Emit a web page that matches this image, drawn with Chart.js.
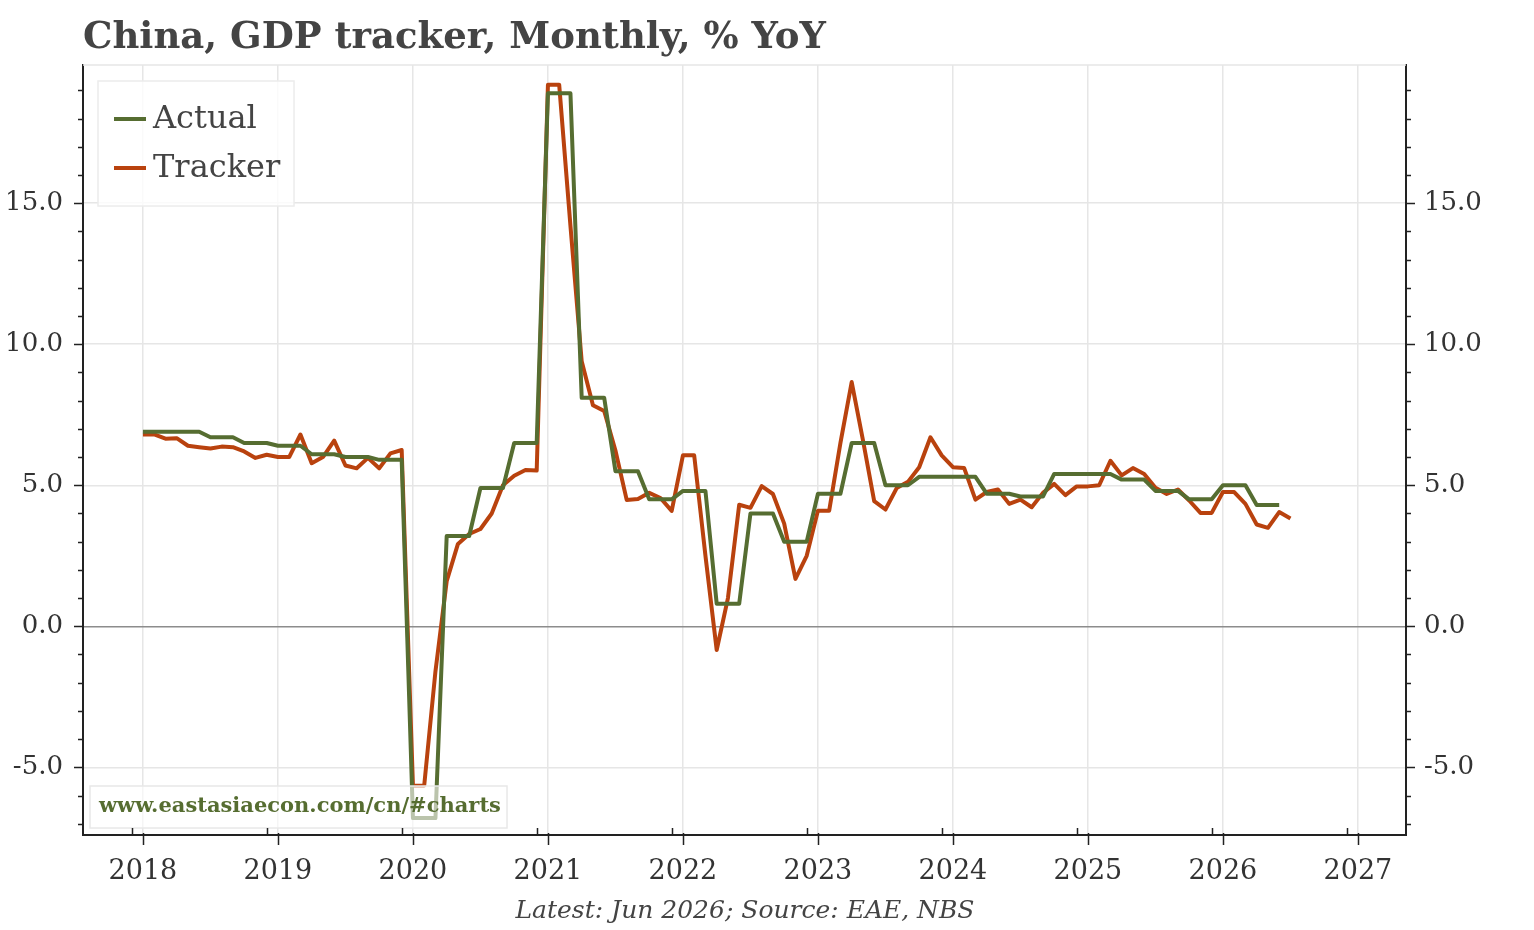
<!DOCTYPE html>
<html>
<head>
<meta charset="utf-8">
<title>China, GDP tracker</title>
<script src="https://cdn.jsdelivr.net/npm/chart.js@4.4.1/dist/chart.umd.min.js"></script>
<style>
  html, body { margin: 0; padding: 0; background: #fff; }
  #wrap { position: relative; width: 1534px; height: 930px; }
</style>
</head>
<body>
<div id="wrap"><canvas id="gdpChart"></canvas></div>
<script>
// Official quarterly GDP, shown monthly (each quarter held for 3 months), Jan 2018 - Jun 2026
const actual = [
  6.9, 6.9, 6.9, 6.9, 6.9, 6.9, 6.7, 6.7, 6.7, 6.5, 6.5, 6.5,
  6.4, 6.4, 6.4, 6.1, 6.1, 6.1, 6.0, 6.0, 6.0, 5.9, 5.9, 5.9,
  -6.8, -6.8, -6.8, 3.2, 3.2, 3.2, 4.9, 4.9, 4.9, 6.5, 6.5, 6.5,
  18.9, 18.9, 18.9, 8.1, 8.1, 8.1, 5.5, 5.5, 5.5, 4.5, 4.5, 4.5,
  4.8, 4.8, 4.8, 0.8, 0.8, 0.8, 4.0, 4.0, 4.0, 3.0, 3.0, 3.0,
  4.7, 4.7, 4.7, 6.5, 6.5, 6.5, 5.0, 5.0, 5.0, 5.3, 5.3, 5.3,
  5.3, 5.3, 5.3, 4.7, 4.7, 4.7, 4.6, 4.6, 4.6, 5.4, 5.4, 5.4,
  5.4, 5.4, 5.4, 5.2, 5.2, 5.2, 4.8, 4.8, 4.8, 4.5, 4.5, 4.5,
  5.0, 5.0, 5.0, 4.3, 4.3, 4.3
];

// Monthly tracker, Jan 2018 onwards
const tracker = [
  6.8, 6.8, 6.65, 6.67, 6.4, 6.35, 6.3, 6.37, 6.35, 6.2, 5.97, 6.08,
  6.0, 6.0, 6.8, 5.78, 6.0, 6.58, 5.7, 5.6, 5.97, 5.6, 6.13, 6.25,
  -5.65, -5.65, -1.6, 1.6, 2.92, 3.27, 3.45, 4.0, 5.0, 5.34, 5.54, 5.52,
  19.2, 19.2, 14.2, 9.4, 7.84, 7.63, 6.23, 4.48, 4.51, 4.73, 4.55, 4.09,
  6.06, 6.06, 2.5, -0.84, 1.0, 4.31, 4.2, 4.97, 4.69, 3.64, 1.68, 2.5,
  4.1, 4.1, 6.5, 8.66, 6.6, 4.44, 4.14, 4.9, 5.12, 5.64, 6.7, 6.06,
  5.64, 5.61, 4.49, 4.76, 4.85, 4.34, 4.49, 4.22, 4.73, 5.05, 4.65, 4.96,
  4.96, 5.0, 5.87, 5.35, 5.61, 5.4, 4.91, 4.69, 4.85, 4.46, 4.02, 4.02,
  4.76, 4.76, 4.34, 3.61, 3.49, 4.05, 3.82
];

const yearTicks = [2018, 2019, 2020, 2021, 2022, 2023, 2024, 2025, 2026, 2027];
const yLabels = [-5, 0, 5, 10, 15];

const titleText = "China, GDP tracker, Monthly, % YoY";
const footerText = "Latest: Jun 2026; Source: EAE, NBS";
const siteText = "www.eastasiaecon.com/cn/#charts";

const GREEN = "#566d31";
const ORANGE = "#b9420e";
const SERIF = "'DejaVu Serif', 'Liberation Serif', serif";

// month labels "YYYY-MM" starting Jan 2018
const months = [];
for (let i = 0; i < tracker.length; i++) {
  const yr = 2018 + Math.floor(i / 12);
  const mo = (i % 12) + 1;
  months.push(yr + "-" + String(mo).padStart(2, "0"));
}
function toYear(label) {
  const parts = label.split("-").map(Number);
  return parts[0] + (parts[1] - 1) / 12;
}
function toPoints(values) {
  return values.map((v, i) => ({ x: toYear(months[i]), y: v }));
}

// title, footer, axis tick marks, legend, watermark
const decor = {
  id: "decor",
  beforeDraw(chart) {
    const c = chart.ctx;
    c.save();
    c.fillStyle = "#fff";
    c.fillRect(0, 0, chart.width, chart.height);
    c.fillStyle = "#444";
    c.font = "bold 37px " + SERIF;
    c.textBaseline = "alphabetic";
    c.textAlign = "left";
    c.fillText(titleText, 83, 48);
    c.font = "italic 25px " + SERIF;
    c.textAlign = "center";
    c.fillText(footerText, 745, 918);
    c.restore();
  },
  afterDatasetsDraw(chart) {
    const c = chart.ctx;
    c.save();

    // legend box
    c.fillStyle = "rgba(255,255,255,0.8)";
    c.fillRect(98, 81, 196, 125);
    c.strokeStyle = "#ececec";
    c.lineWidth = 1.5;
    c.strokeRect(98, 81, 196, 125);
    chart.data.datasets.forEach((ds, i) => {
      const yy = 119 + i * 49;
      c.strokeStyle = ds.borderColor;
      c.lineWidth = 4;
      c.beginPath();
      c.moveTo(114, yy);
      c.lineTo(146, yy);
      c.stroke();
      c.fillStyle = "#444";
      c.font = "32px " + SERIF;
      c.textAlign = "left";
      c.textBaseline = "middle";
      c.fillText(ds.label, 153, yy + 1);
    });

    // watermark box
    c.fillStyle = "rgba(255,255,255,0.6)";
    c.fillRect(90, 786, 417, 42);
    c.strokeStyle = "#e8e8e8";
    c.lineWidth = 1.5;
    c.strokeRect(90, 786, 417, 42);
    c.fillStyle = GREEN;
    c.font = "bold 21px " + SERIF;
    c.textAlign = "left";
    c.textBaseline = "middle";
    c.fillText(siteText, 99, 807);

    c.restore();
  },
  afterDraw(chart) {
    const c = chart.ctx;
    const a = chart.chartArea;
    const ys = chart.scales.y;
    const xs = chart.scales.x;
    c.save();
    // light top edge
    c.strokeStyle = "#e6e6e6";
    c.lineWidth = 1.5;
    c.beginPath();
    c.moveTo(a.left, a.top);
    c.lineTo(a.right, a.top);
    c.stroke();

    c.strokeStyle = "#222";
    c.lineWidth = 1.5;
    c.beginPath();
    for (let v = Math.ceil(ys.min); v <= Math.floor(ys.max); v++) {
      const py = Math.round(ys.getPixelForValue(v)) + 0.5;
      const len = v % 5 === 0 ? 9 : 5;
      c.moveTo(a.left, py); c.lineTo(a.left - len, py);
      c.moveTo(a.right, py); c.lineTo(a.right + len, py);
    }
    yearTicks.forEach(yr => {
      const px = Math.round(xs.getPixelForValue(yr)) + 0.5;
      c.moveTo(px, a.bottom - 2); c.lineTo(px, a.bottom + 10);
      const pm = Math.round(xs.getPixelForValue(yr - 1 / 12)) + 0.5;
      c.moveTo(pm, a.bottom); c.lineTo(pm, a.bottom - 7);
    });
    c.stroke();
    c.restore();
  }
};

const tickFont = { family: SERIF, size: 26 };

new Chart(document.getElementById("gdpChart"), {
  type: "line",
  data: {
    datasets: [
      {
        label: "Actual",
        data: toPoints(actual),
        borderColor: GREEN,
        borderWidth: 4,
        pointRadius: 0,
        tension: 0,
        borderJoinStyle: "round"
      },
      {
        label: "Tracker",
        data: toPoints(tracker),
        borderColor: ORANGE,
        borderWidth: 4,
        pointRadius: 0,
        tension: 0,
        borderJoinStyle: "round"
      }
    ]
  },
  options: {
    responsive: true,
    maintainAspectRatio: false,
    animation: false,
    layout: { padding: { top: 65, left: 0, right: 0, bottom: 0 } },
    plugins: {
      legend: { display: false },
      tooltip: { enabled: false }
    },
    scales: {
      x: {
        type: "linear",
        min: 2017.556,
        max: 2027.356,
        afterFit(s) { s.height = 95; },
        afterBuildTicks(s) { s.ticks = yearTicks.map(v => ({ value: v })); },
        grid: { color: "#e6e6e6", lineWidth: 1.5, drawTicks: false },
        border: { color: "#222", width: 2 },
        ticks: {
          font: { family: SERIF, size: 27 },
          color: "#333",
          padding: 21,
          autoSkip: false,
          maxRotation: 0,
          callback: v => String(v)
        }
      },
      y: {
        position: "left",
        min: -7.4,
        max: 19.9,
        afterFit(s) { s.width = 83; },
        afterBuildTicks(s) { s.ticks = yLabels.map(v => ({ value: v })); },
        grid: {
          color: ctx => (ctx.tick && ctx.tick.value === 0 ? "#8c8c8c" : "#e6e6e6"),
          lineWidth: 1.5,
          drawTicks: false
        },
        border: { color: "#222", width: 2 },
        ticks: { font: tickFont, color: "#333", padding: 20, callback: v => v.toFixed(1) }
      },
      y2: {
        position: "right",
        min: -7.4,
        max: 19.9,
        afterFit(s) { s.width = 128; },
        afterBuildTicks(s) { s.ticks = yLabels.map(v => ({ value: v })); },
        grid: { display: false, drawTicks: false },
        border: { color: "#222", width: 2 },
        ticks: { font: tickFont, color: "#333", padding: 18, callback: v => v.toFixed(1) }
      }
    }
  },
  plugins: [decor]
});
</script>
</body>
</html>
